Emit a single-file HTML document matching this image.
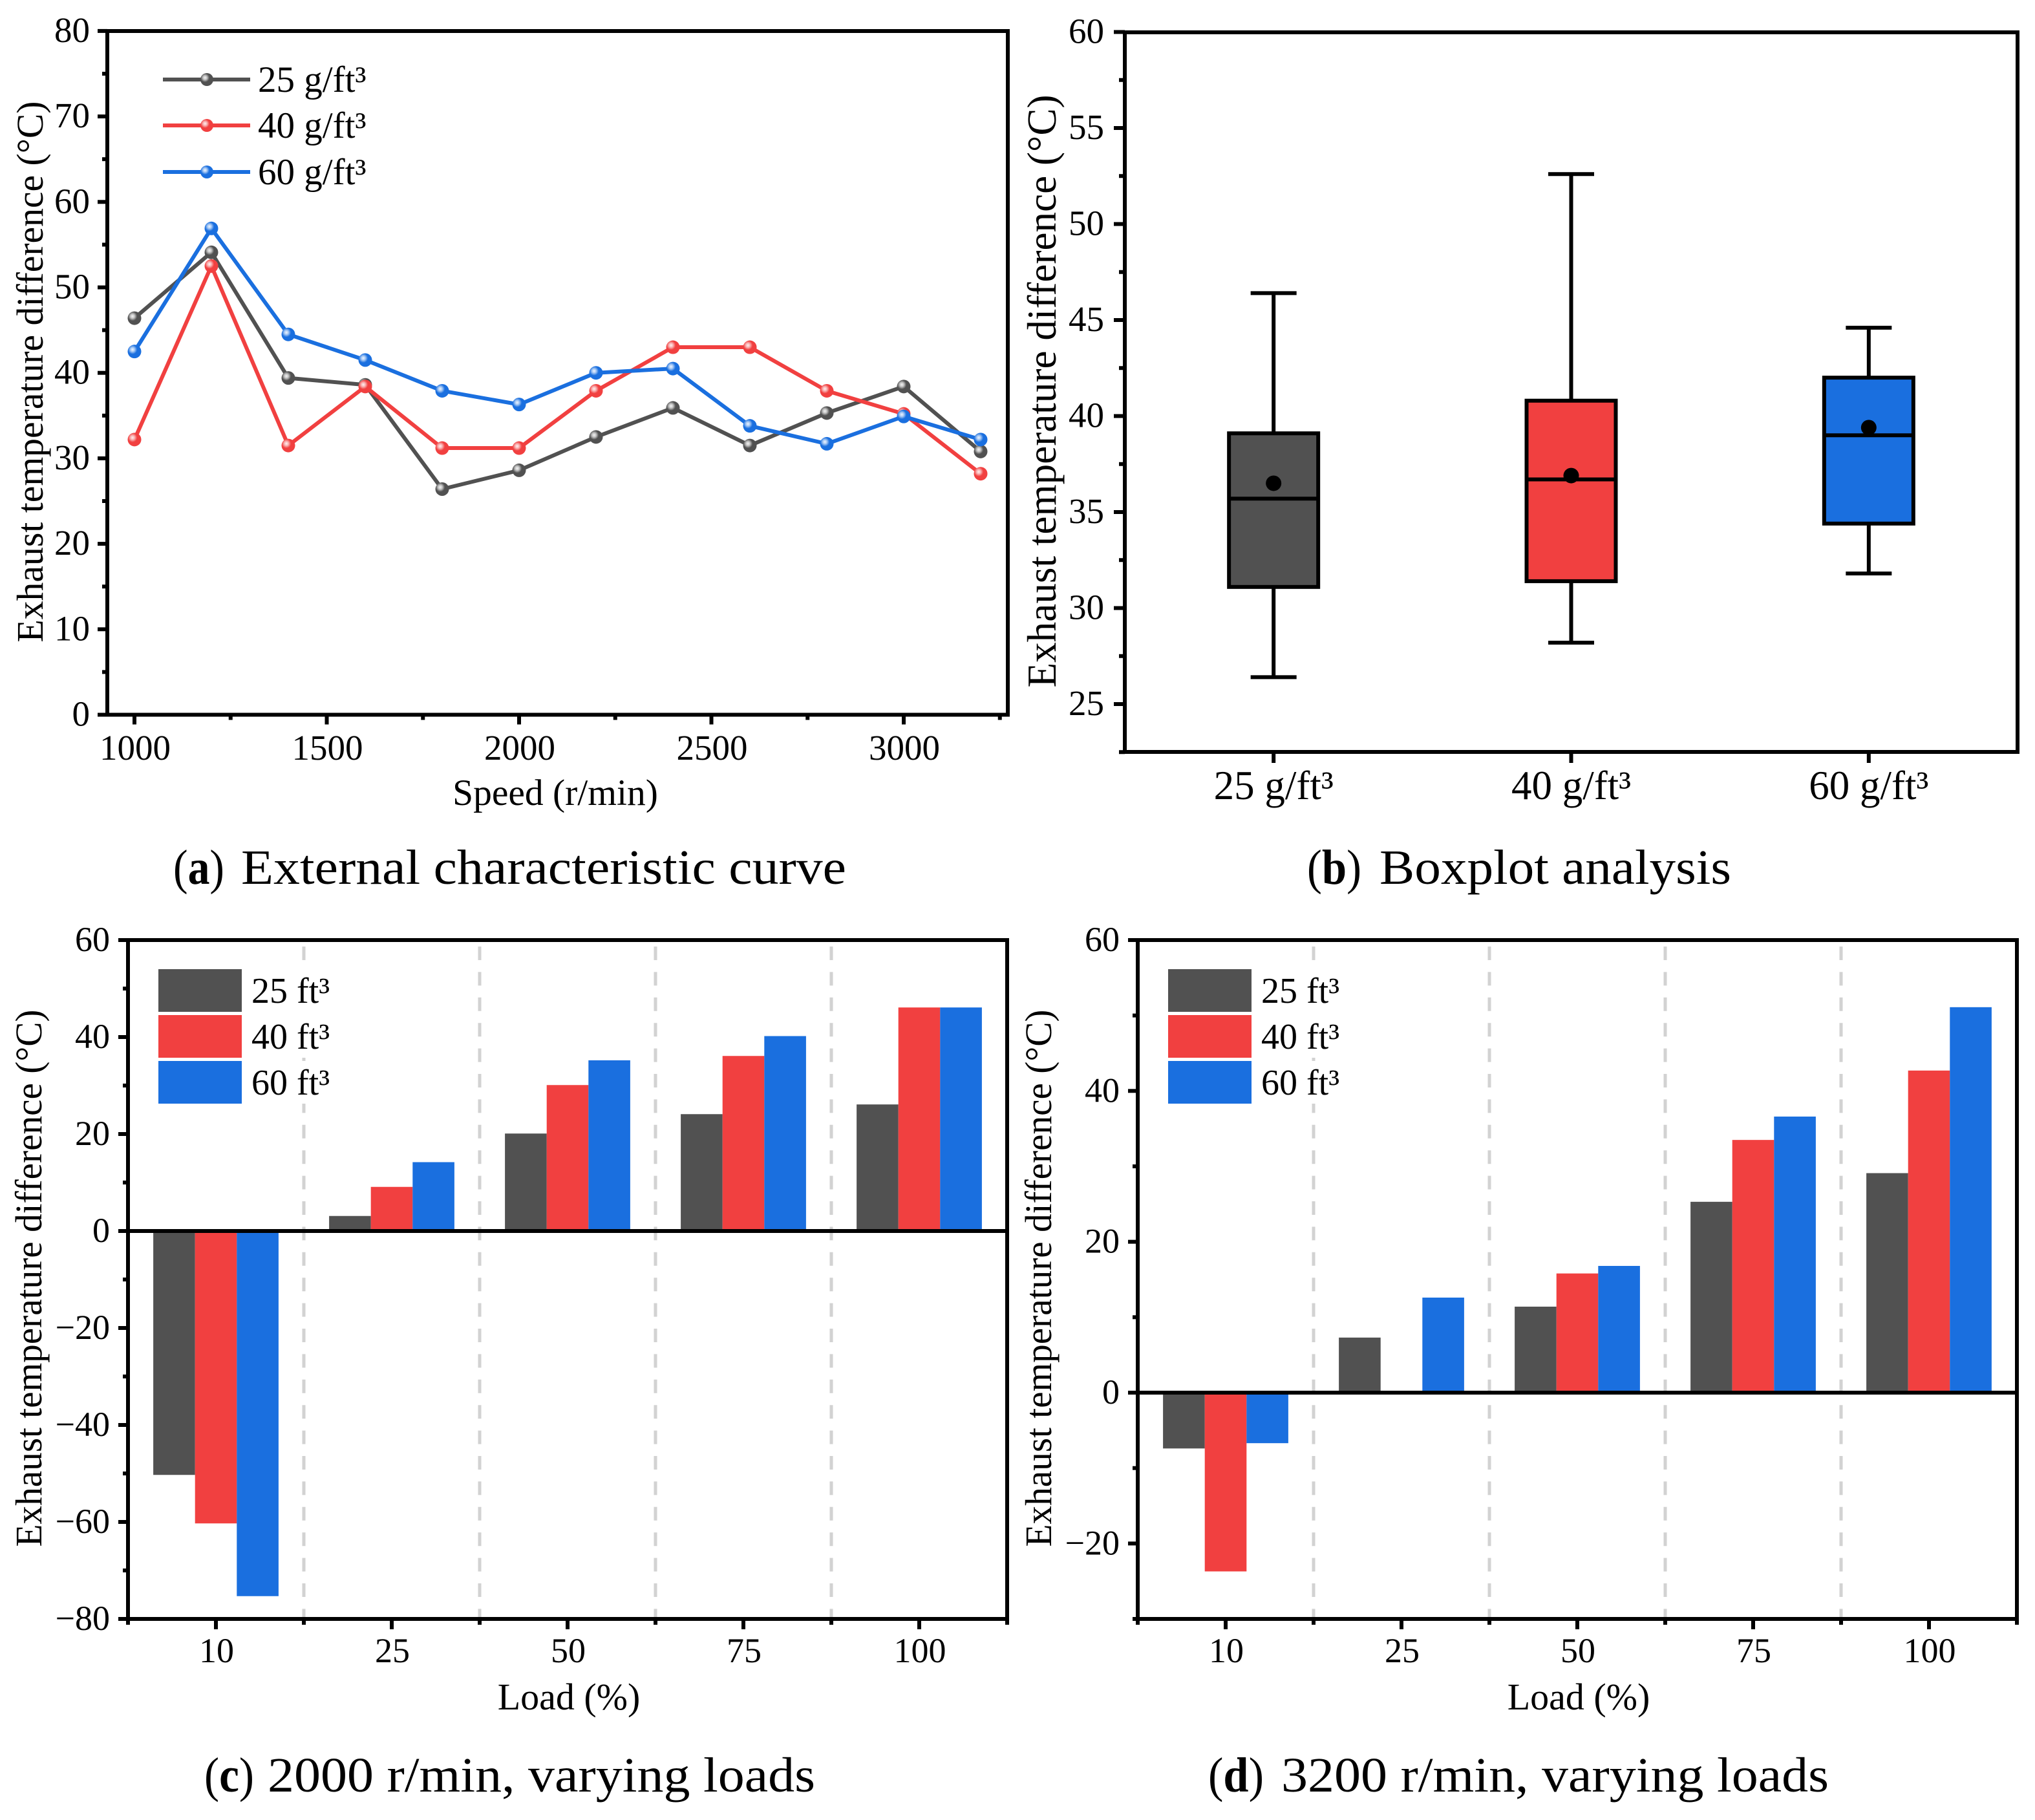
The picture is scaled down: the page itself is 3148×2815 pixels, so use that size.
<!DOCTYPE html>
<html lang="en">
<head>
<meta charset="utf-8">
<title>Exhaust temperature difference charts</title>
<style>
html,body{margin:0;padding:0;background:#fff;}
svg{display:block;}
text{font-family:"Liberation Serif","DejaVu Serif",serif;fill:#000;}
</style>
</head>
<body>
<svg id="figure" xmlns="http://www.w3.org/2000/svg" width="3148" height="2815" viewBox="0 0 3148 2815">
  <defs>
    <radialGradient id="ball-gray" cx="0.36" cy="0.36" r="0.34"><stop offset="0" stop-color="#f4f4f4"/><stop offset="0.45" stop-color="#c4c4c4"/><stop offset="1" stop-color="#515151"/></radialGradient>
    <radialGradient id="ball-red" cx="0.36" cy="0.36" r="0.34"><stop offset="0" stop-color="#fff0f0"/><stop offset="0.45" stop-color="#f9b4b4"/><stop offset="1" stop-color="#F14040"/></radialGradient>
    <radialGradient id="ball-blue" cx="0.36" cy="0.36" r="0.34"><stop offset="0" stop-color="#eef5ff"/><stop offset="0.45" stop-color="#a6c8f4"/><stop offset="1" stop-color="#1A6FDF"/></radialGradient>
  </defs>
  <text x="268" y="1367" font-size="76" textLength="79" lengthAdjust="spacingAndGlyphs">(<tspan font-weight="bold">a</tspan>)</text>
  <text x="373" y="1367" font-size="76" textLength="936" lengthAdjust="spacingAndGlyphs">External characteristic curve</text>
  <text x="2022" y="1367" font-size="76" textLength="84" lengthAdjust="spacingAndGlyphs">(<tspan font-weight="bold">b</tspan>)</text>
  <text x="2134" y="1367" font-size="76" textLength="544" lengthAdjust="spacingAndGlyphs">Boxplot analysis</text>
  <text x="316" y="2771" font-size="76" textLength="77" lengthAdjust="spacingAndGlyphs">(<tspan font-weight="bold">c</tspan>)</text>
  <text x="414" y="2771" font-size="76" textLength="847" lengthAdjust="spacingAndGlyphs">2000 r/min, varying loads</text>
  <text x="1869" y="2771" font-size="76" textLength="86" lengthAdjust="spacingAndGlyphs">(<tspan font-weight="bold">d</tspan>)</text>
  <text x="1982" y="2771" font-size="76" textLength="847" lengthAdjust="spacingAndGlyphs">3200 r/min, varying loads</text>
</svg>
<script>
// ---- Panel (a) data ----
const speedCategories = [1000, 1200, 1400, 1600, 1800, 2000, 2200, 2400, 2600, 2800, 3000, 3200];
const curve25 = [46.4, 54.1, 39.4, 38.6, 26.4, 28.6, 32.5, 35.9, 31.5, 35.3, 38.4, 30.8];
const curve40 = [32.2, 52.5, 31.5, 38.4, 31.2, 31.2, 37.9, 43.0, 43.0, 37.9, 35.2, 28.2];
const curve60 = [42.5, 56.9, 44.5, 41.5, 37.9, 36.3, 40.0, 40.5, 33.8, 31.7, 34.9, 32.2];
const speedTicks = [1000, 1500, 2000, 2500, 3000];
const speedMinorTicks = [1250, 1750, 2250, 2750, 3250];
const curveYTicks = [0, 10, 20, 30, 40, 50, 60, 70, 80];
const curveYMinorTicks = [5, 15, 25, 35, 45, 55, 65, 75];

// ---- Panel (b) data ----
const boxCategories = ['25 g/ft³', '40 g/ft³', '60 g/ft³'];
const boxWhiskerLow = [26.4, 28.2, 31.8];
const boxQ1 = [31.1, 31.4, 34.4];
const boxMedian = [35.7, 36.7, 39.0];
const boxQ3 = [39.1, 40.8, 42.0];
const boxWhiskerHigh = [46.4, 52.6, 44.6];
const boxMean = [36.5, 36.9, 39.4];
const boxYTicks = [25, 30, 35, 40, 45, 50, 55, 60];
const boxYMinorTicks = [22.5, 27.5, 32.5, 37.5, 42.5, 47.5, 52.5, 57.5];

// ---- Panels (c), (d) data ----
const loadCategories = ['10', '25', '50', '75', '100'];
const load2000s25 = [-50.3, 3.1, 20.1, 24.1, 26.1];
const load2000s40 = [-60.3, 9.1, 30.1, 36.1, 46.1];
const load2000s60 = [-75.3, 14.2, 35.2, 40.2, 46.1];
const load2000YTicks = [-80, -60, -40, -20, 0, 20, 40, 60];
const load2000YMinorTicks = [-70, -50, -30, -10, 10, 30, 50];
const load3200s25 = [-7.4, 7.3, 11.4, 25.3, 29.1];
const load3200s40 = [-23.7, 0, 15.8, 33.5, 42.7];
const load3200s60 = [-6.7, 12.6, 16.8, 36.6, 51.1];
const load3200YTicks = [-20, 0, 20, 40, 60];
const load3200YMinorTicks = [-30, -10, 10, 30, 50];

const seriesNames = ['25', '40', '60'];
const lineLegendLabels = ['25 g/ft³', '40 g/ft³', '60 g/ft³'];
const barLegendLabels = ['25 ft³', '40 ft³', '60 ft³'];
const seriesColors = ['#515151', '#F14040', '#1A6FDF'];
const ballFills = ['url(#ball-gray)', 'url(#ball-red)', 'url(#ball-blue)'];

const svg = document.getElementById('figure');
const NS = 'http://www.w3.org/2000/svg';

function make(tag, attrs, parent) {
  const el = document.createElementNS(NS, tag);
  for (const k in attrs) el.setAttribute(k, attrs[k]);
  (parent || svg).appendChild(el);
  return el;
}
function drawLine(x1, y1, x2, y2, name, color, width, dash) {
  const el = make('line', {x1, y1, x2, y2, stroke: color || '#000', 'stroke-width': width || 6});
  if (dash) el.setAttribute('stroke-dasharray', dash);
  
  
  return el;
}
function drawRect(x, y, width, height, fill, name) {
  const el = make('rect', {x, y, width, height, fill});
  
  
  return el;
}
function drawText(str, x, y, size, anchor, name) {
  const el = make('text', {x, y, 'font-size': size, 'text-anchor': anchor || 'start'});
  el.textContent = str;
  
  
  return el;
}
function drawYTitle(x, cy, len, size, panel) {
  const el = make('text', {
    x: 0, y: 0, 'font-size': size, 'text-anchor': 'middle',
    transform: 'translate(' + x + ',' + cy + ') rotate(-90)',
    textLength: len, lengthAdjust: 'spacingAndGlyphs'
  });
  el.textContent = 'Exhaust temperature difference (°C)';
  
  
}
function drawFrame(f, panel) {
  const el = make('rect', {x: f.l, y: f.t, width: f.r - f.l, height: f.b - f.t, fill: 'none', stroke: '#000', 'stroke-width': 6});
  
  
}
function yAxis(f, panel, yScale, majors, minors, labelRight, size, majorLen, minorLen) {
  majors.forEach(function (v) {
    drawLine(f.l - majorLen, yScale(v), f.l, yScale(v), panel + '-y-tick-' + v);
    const label = v < 0 ? '−' + Math.abs(v) : String(v);
    drawText(label, labelRight, yScale(v) + 17, size, 'end', panel + '-y-tick-label-' + v);
  });
  minors.forEach(function (v) {
    drawLine(f.l - minorLen, yScale(v), f.l, yScale(v), panel + '-y-minor-tick-' + v);
  });
}

// ---------- Panel (a): line chart ----------
(function () {
  const f = {l: 166, r: 1559, t: 48, b: 1105.5};
  const x = function (v) { return 208 + (v - 1000) * 0.595; };
  const y = function (v) { return f.b - v * 13.22; };
  const all = [curve25, curve40, curve60];
  all.forEach(function (series, s) {
    const pts = series.map(function (v, i) { return x(speedCategories[i]) + ',' + y(v); }).join(' ');
    const poly = make('polyline', {points: pts, fill: 'none', stroke: seriesColors[s], 'stroke-width': 6, 'stroke-linejoin': 'round'});
    
    
    series.forEach(function (v, i) {
      const c = make('circle', {cx: x(speedCategories[i]), cy: y(v), r: 10.5, fill: ballFills[s]});
      
      
    });
  });
  drawFrame(f, 'curve');
  yAxis(f, 'curve', y, curveYTicks, curveYMinorTicks, 139, 55, 15, 8);
  speedTicks.forEach(function (v) {
    drawLine(x(v), f.b, x(v), f.b + 15, 'curve-x-tick-' + v);
    drawText(String(v), x(v) + 1, 1175, 55, 'middle', 'curve-x-tick-label-' + v);
  });
  speedMinorTicks.forEach(function (v) {
    drawLine(x(v), f.b, x(v), f.b + 8, 'curve-x-minor-tick-' + v);
  });
  drawText('Speed (r/min)', 859, 1245, 57.5, 'middle', 'curve-x-axis-title');
  drawYTitle(66, 575, 837, 58, 'curve');
  const legendY = [123, 194, 266];
  lineLegendLabels.forEach(function (label, s) {
    drawLine(252, legendY[s], 387, legendY[s], 'curve-legend-line-' + seriesNames[s], seriesColors[s], 6);
    const c = make('circle', {cx: 320, cy: legendY[s], r: 10, fill: ballFills[s]});
    
    
    drawText(label, 399, legendY[s] + 19, 57, 'start', 'curve-legend-label-' + seriesNames[s]);
  });
})();

// ---------- Panel (b): box plot ----------
(function () {
  const f = {l: 1740, r: 3121, t: 50, b: 1163};
  const x = function (i) { return f.l + (i + 0.5) * (f.r - f.l) / boxCategories.length; };
  const y = function (v) { return 1089 - (v - 25) * 29.7; };
  drawFrame(f, 'box');
  yAxis(f, 'box', y, boxYTicks, boxYMinorTicks, 1708, 55, 17, 9);
  boxCategories.forEach(function (label, i) {
    const cx = x(i);
    drawLine(cx, y(boxWhiskerLow[i]), cx, y(boxWhiskerHigh[i]), 'box-whisker-' + seriesNames[i]);
    drawLine(cx - 35.5, y(boxWhiskerLow[i]), cx + 35.5, y(boxWhiskerLow[i]), 'box-whisker-cap-low-' + seriesNames[i]);
    drawLine(cx - 35.5, y(boxWhiskerHigh[i]), cx + 35.5, y(boxWhiskerHigh[i]), 'box-whisker-cap-high-' + seriesNames[i]);
    const b = make('rect', {x: cx - 69, y: y(boxQ3[i]), width: 138, height: y(boxQ1[i]) - y(boxQ3[i]), fill: seriesColors[i], stroke: '#000', 'stroke-width': 6});
    
    
    drawLine(cx - 69, y(boxMedian[i]), cx + 69, y(boxMedian[i]), 'box-median-' + seriesNames[i]);
    const m = make('circle', {cx: cx, cy: y(boxMean[i]), r: 12, fill: '#000'});
    
    
    drawLine(cx, f.b, cx, f.b + 17, 'box-x-tick-' + seriesNames[i]);
    drawText(label, cx, 1236, 63, 'middle', 'box-x-tick-label-' + seriesNames[i]);
  });
  drawYTitle(1633, 605, 917, 64, 'box');
})();

// ---------- Panels (c), (d): grouped bars ----------
function barPanel(cfg) {
  const f = cfg.frame, panel = cfg.panel;
  const step = (f.r - f.l) / loadCategories.length;
  const x = function (i) { return f.l + (i + 0.5) * step; };
  const y = function (v) { return cfg.zero - v * cfg.unit; };
  const barW = 64.6;
  for (let i = 1; i < loadCategories.length; i++) {
    drawLine(x(i) - step / 2, f.t + 10, x(i) - step / 2, f.b, panel + '-group-divider-' + i, '#d2d2d2', 5, '21 18.4');
  }
  cfg.series.forEach(function (series, s) {
    series.forEach(function (v, i) {
      if (v === 0) return;
      const top = Math.min(y(v), y(0));
      drawRect(x(i) + (s - 1.5) * barW, top, barW, Math.abs(y(v) - y(0)), seriesColors[s], panel + '-bar-' + seriesNames[s] + '-load-' + loadCategories[i]);
    });
  });
  drawFrame(f, panel);
  drawLine(f.l, y(0), f.r, y(0), panel + '-zero-line');
  yAxis(f, panel, y, cfg.majors, cfg.minors, cfg.labelRight, 54, 15, 8);
  loadCategories.forEach(function (label, i) {
    drawLine(x(i), f.b, x(i), f.b + 16, panel + '-x-tick-' + label);
    drawText(label, x(i) + 1, 2571, 54, 'middle', panel + '-x-tick-label-' + label);
  });
  for (let i = 0; i <= loadCategories.length; i++) {
    drawLine(f.l + i * step, f.b, f.l + i * step, f.b + 9, panel + '-x-minor-tick-' + i);
  }
  drawText('Load (%)', (f.l + f.r) / 2 + 2, 2644, 58, 'middle', panel + '-x-axis-title');
  drawYTitle(cfg.titleX, 1977, 831, 58, panel);
  const rowTop = [1499, 1570, 1641];
  const rowH = [66, 66, 66];
  const lx = f.l + 47;
  barLegendLabels.forEach(function (label, s) {
    drawRect(lx, rowTop[s], 280, rowH[s], '#fff', panel + '-legend-row-bg-' + seriesNames[s]);
    drawRect(lx, rowTop[s], 129, rowH[s], seriesColors[s], panel + '-legend-swatch-' + seriesNames[s]);
    drawText(label, lx + 144, rowTop[s] + 52, 56, 'start', panel + '-legend-label-' + seriesNames[s]);
  });
}
barPanel({
  panel: 'load2000', frame: {l: 198, r: 1558, t: 1454, b: 2504},
  zero: 1904, unit: 7.5, labelRight: 170, titleX: 64,
  series: [load2000s25, load2000s40, load2000s60],
  majors: load2000YTicks, minors: load2000YMinorTicks
});
barPanel({
  panel: 'load3200', frame: {l: 1760, r: 3120, t: 1454, b: 2504},
  zero: 2154, unit: 11.667, labelRight: 1732, titleX: 1626,
  series: [load3200s25, load3200s40, load3200s60],
  majors: load3200YTicks, minors: load3200YMinorTicks
});
</script>
</body>
</html>
